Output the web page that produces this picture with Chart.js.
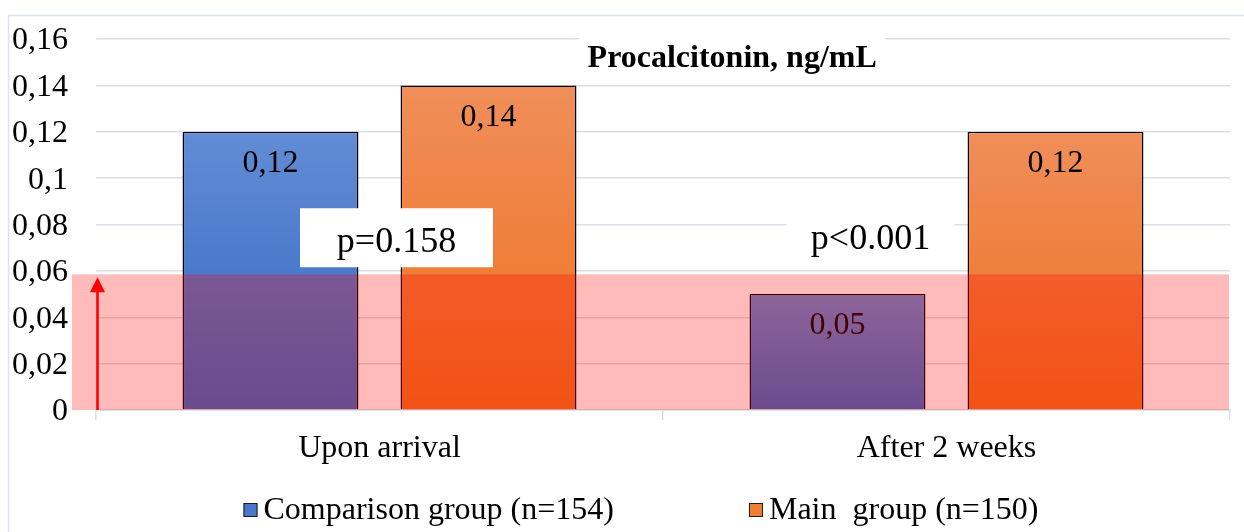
<!DOCTYPE html>
<html>
<head>
<meta charset="utf-8">
<script src="https://cdn.jsdelivr.net/npm/chart.js@4/dist/chart.umd.min.js"></script>
<style>
  html, body { margin: 0; padding: 0; background: #ffffff; }
  #wrap { width: 1244px; height: 532px; }
</style>
</head>
<body>
<div id="wrap"><canvas id="c" width="1244" height="532"></canvas></div>
<script>
// Procalcitonin levels by group and time point
const categories = ['Upon arrival', 'After 2 weeks'];
const comparisonValues = [0.12, 0.05];
const mainValues = [0.14, 0.12];
const seriesNames = ['Comparison group (n=154)', 'Main  group (n=150)'];
const yTickLabels = ['0', '0,02', '0,04', '0,06', '0,08', '0,1', '0,12', '0,14', '0,16'];
const normalLimit = 0.0585;           // upper bound of the reference range band
const pValueTexts = ['p=0.158', 'p<0.001'];
const pValueLevels = [0.0745, 0.0755];
const chartTitle = 'Procalcitonin, ng/mL';

const SERIF = '"Liberation Serif", "Times New Roman", serif';
const GRID = '#dadfe8';
const FS = 32;

const fmt = v => String(v).replace('.', ',');

// vertical gradient per bar, running from its top edge to the baseline
function barGradient(top, bottom) {
  return function (ctx) {
    const chart = ctx.chart;
    if (!chart.chartArea || ctx.type !== 'data') return bottom;
    const ys = chart.scales.y;
    const y1 = ys.getPixelForValue(ctx.raw);
    const y0 = ys.getPixelForValue(0);
    if (!isFinite(y1) || !isFinite(y0) || y1 === y0) return bottom;
    const g = chart.ctx.createLinearGradient(0, y1, 0, y0);
    g.addColorStop(0, top);
    g.addColorStop(1, bottom);
    return g;
  };
}

const decorations = {
  id: 'decorations',
  beforeDraw(chart) {
    const c = chart.ctx;
    c.save();
    c.fillStyle = '#ffffff';
    c.fillRect(0, 0, chart.width, chart.height);
    c.strokeStyle = '#dde3ee';
    c.lineWidth = 1.5;
    c.strokeRect(8.5, 15.5, chart.width + 40, chart.height + 40);
    c.restore();
  },
  afterDatasetsDraw(chart) {
    const c = chart.ctx;
    const a = chart.chartArea;
    const xs = chart.scales.x, ys = chart.scales.y;
    c.save();

    // value labels inside the bars
    c.font = FS + 'px ' + SERIF;
    c.fillStyle = '#000000';
    c.textAlign = 'center';
    c.textBaseline = 'middle';
    chart.data.datasets.forEach((ds, di) => {
      chart.getDatasetMeta(di).data.forEach((bar, i) => {
        c.fillText(fmt(ds.data[i]), bar.x, bar.y + 32);
      });
    });

    // reference range band
    const yTop = ys.getPixelForValue(normalLimit);
    const y0 = ys.getPixelForValue(0);
    c.fillStyle = 'rgba(255, 0, 0, 0.27)';
    c.fillRect(a.left - 24, yTop, (a.right - 1) - (a.left - 24), y0 - yTop);

    // arrow marking the range
    const ax = a.left + 1.5;
    const tip = yTop + 3;
    c.strokeStyle = '#ff0000';
    c.fillStyle = '#ff0000';
    c.lineWidth = 2.6;
    c.beginPath();
    c.moveTo(ax, y0);
    c.lineTo(ax, tip + 12);
    c.stroke();
    c.beginPath();
    c.moveTo(ax, tip);
    c.lineTo(ax - 7.5, tip + 15);
    c.lineTo(ax + 7.5, tip + 15);
    c.closePath();
    c.fill();

    // p-value annotations
    c.font = '36px ' + SERIF;
    const pOffsets = [17, -76];
    const pBoxW = [193, 168];
    pValueTexts.forEach((t, i) => {
      const cx = xs.getPixelForValue(i) + pOffsets[i];
      const cy = ys.getPixelForValue(pValueLevels[i]);
      c.fillStyle = '#ffffff';
      c.fillRect(cx - pBoxW[i] / 2, cy - 29, pBoxW[i], 59);
      c.fillStyle = '#000000';
      c.fillText(t, cx, cy + 5);
    });

    // title inside the plot
    const tx = a.left + 0.561 * (a.right - a.left);
    c.fillStyle = '#ffffff';
    c.fillRect(tx - 153, a.top - 9, 306, 44);
    c.fillStyle = '#000000';
    c.font = 'bold ' + FS + 'px ' + SERIF;
    c.fillText(chartTitle, tx, a.top + 20);

    // legend
    c.font = FS + 'px ' + SERIF;
    const box = 14, gapText = 6, gapItem = 135;
    const widths = chart.data.datasets.map(ds => box + gapText + c.measureText(ds.label).width);
    const total = widths.reduce((s, w) => s + w, 0) + gapItem * (widths.length - 1);
    let lx = 641 - total / 2;
    const ly = 510;
    const legendFills = ['#4a77cc', '#f07f35'];
    c.textAlign = 'left';
    chart.data.datasets.forEach((ds, i) => {
      c.fillStyle = legendFills[i];
      c.fillRect(lx, ly - box / 2, box, box);
      c.strokeStyle = '#1e1e1e';
      c.lineWidth = 1;
      c.strokeRect(lx + 0.5, ly - box / 2 + 0.5, box - 1, box - 1);
      c.fillStyle = '#000000';
      c.fillText(ds.label, lx + box + gapText, ly + 1);
      lx += widths[i] + gapItem;
    });

    c.restore();
  }
};

new Chart(document.getElementById('c'), {
  type: 'bar',
  data: {
    labels: categories,
    datasets: [
      {
        label: seriesNames[0],
        data: comparisonValues,
        backgroundColor: barGradient('#628cd4', '#3467c4'),
        borderColor: '#000000',
        borderWidth: 1.5,
        categoryPercentage: 0.769,
        barPercentage: 0.807
      },
      {
        label: seriesNames[1],
        data: mainValues,
        backgroundColor: barGradient('#f08e5a', '#ee711c'),
        borderColor: '#000000',
        borderWidth: 1.5,
        categoryPercentage: 0.769,
        barPercentage: 0.807
      }
    ]
  },
  options: {
    responsive: false,
    animation: false,
    devicePixelRatio: 1,
    layout: { padding: { top: 39, right: 14, bottom: 0, left: 0 } },
    plugins: {
      legend: { display: false },
      title: { display: false },
      tooltip: { enabled: false }
    },
    scales: {
      x: {
        grid: { display: true, drawOnChartArea: false, drawTicks: true, tickLength: 10, color: GRID, lineWidth: 1.5 },
        border: { display: true, color: GRID, width: 1.5 },
        ticks: { color: '#000000', font: { family: SERIF, size: FS }, padding: 9 },
        afterFit(scale) { scale.height = 122; }
      },
      y: {
        min: 0,
        max: 0.16,
        grid: { color: GRID, lineWidth: 1.5, drawTicks: false },
        border: { display: false },
        ticks: {
          stepSize: 0.02,
          color: '#000000',
          font: { family: SERIF, size: FS, lineHeight: 0.5 },
          padding: 28,
          labelOffset: 2,
          callback: (v, i) => yTickLabels[i]
        },
        afterFit(scale) { scale.width = 96; }
      }
    }
  },
  plugins: [decorations]
});
</script>
</body>
</html>
